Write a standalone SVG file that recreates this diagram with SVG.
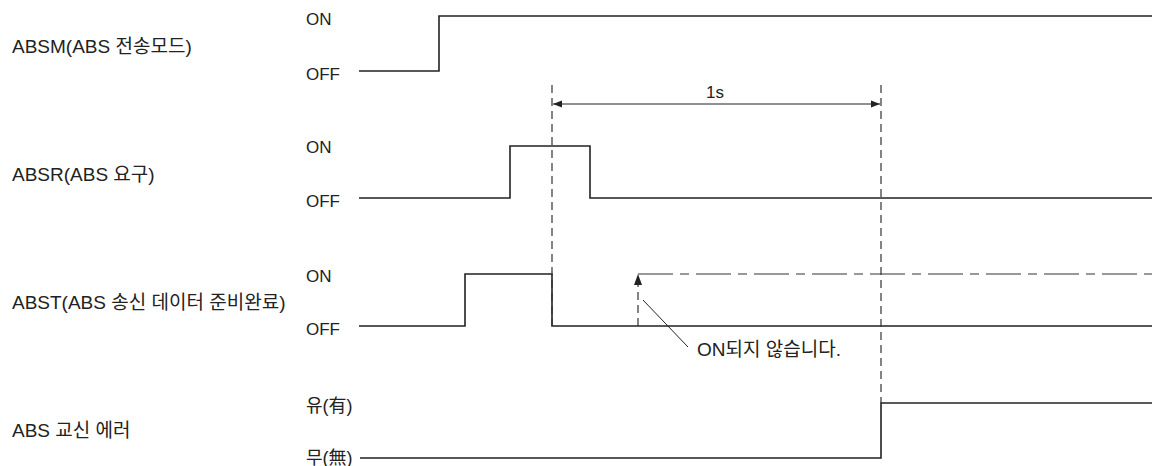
<svg xmlns="http://www.w3.org/2000/svg" width="1152" height="466" viewBox="0 0 1152 466">
<style>
text{font-family:"Liberation Sans","Noto Sans CJK KR",sans-serif;font-size:17px;fill:#222}
.lbl{font-size:19px}
.kr{font-size:18px}
.sig{fill:none;stroke:#222;stroke-width:1.6}
.dash{fill:none;stroke:#333;stroke-width:1.2;stroke-dasharray:8 5}
.dd{fill:none;stroke:#333;stroke-width:1.2;stroke-dasharray:35 7 9 7}
.thin{fill:none;stroke:#222;stroke-width:1}
</style>
<defs>
<marker id="ah" viewBox="0 0 10 10" refX="10" refY="5" markerWidth="9" markerHeight="9" markerUnits="userSpaceOnUse" orient="auto-start-reverse"><path d="M0,1 L10,5 L0,9 Z" fill="#222"/></marker>
</defs>
<rect width="1152" height="466" fill="#fff"/>
<g id="absm">
<text class="lbl" x="12" y="53">ABSM(ABS 전송모드)</text>
<text x="306" y="25">ON</text>
<text x="306" y="80">OFF</text>
<polyline class="sig" points="359,71 439,71 439,16 1152,16"/>
</g>
<g id="absr">
<text class="lbl" x="12" y="181">ABSR(ABS 요구)</text>
<text x="306" y="153">ON</text>
<text x="306" y="207">OFF</text>
<polyline class="sig" points="359,198 510,198 510,146 590,146 590,198 1152,198"/>
</g>
<g id="abst">
<text class="lbl" x="12" y="309">ABST(ABS 송신 데이터 준비완료)</text>
<text x="306" y="282">ON</text>
<text x="306" y="335">OFF</text>
<polyline class="sig" points="359,326 465,326 465,274 552,274 552,326 1152,326"/>
</g>
<g id="abserr">
<text class="lbl" x="12" y="437">ABS 교신 에러</text>
<text class="kr" x="306" y="412">유(有)</text>
<text class="kr" x="306" y="464">무(無)</text>
<polyline class="sig" points="360,458 881,458 881,403 1152,403"/>
</g>
<g id="connectors">
<line class="dash" x1="552" y1="85" x2="552" y2="326"/>
<line class="dash" x1="881" y1="85" x2="881" y2="403"/>
<line class="thin" x1="553" y1="104" x2="880" y2="104" marker-start="url(#ah)" marker-end="url(#ah)"/>
<text x="706" y="98">1s</text>
<line class="dd" x1="638" y1="274" x2="1152" y2="274"/>
<line class="dash" x1="638" y1="326" x2="638" y2="284"/>
<path d="M634,285 L638,274 L642,285 Z" fill="#222"/>
<line class="thin" x1="643" y1="300" x2="688" y2="347"/>
<text x="697" y="356" style="font-size:19px">ON되지 않습니다.</text>
</g>
</svg>
